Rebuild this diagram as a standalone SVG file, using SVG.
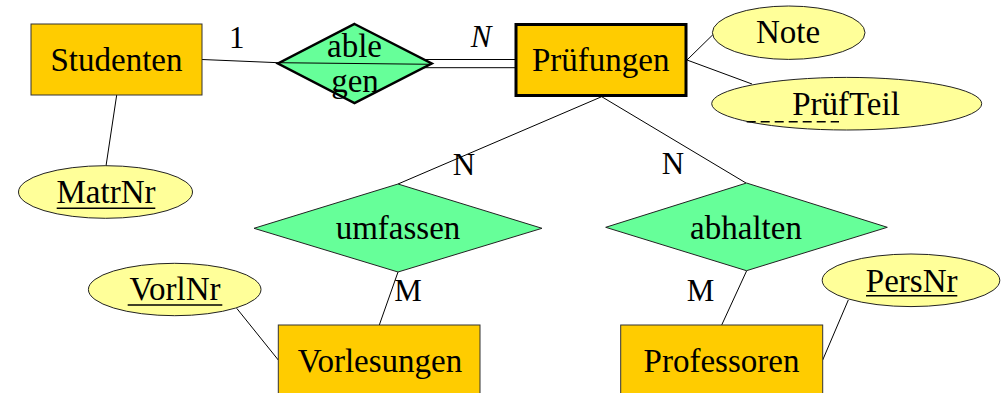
<svg xmlns="http://www.w3.org/2000/svg" width="1008" height="393" viewBox="0 0 1008 393">
<style>
text{font-family:"Liberation Serif","Times New Roman",serif;fill:#000}
.t{font-size:33px;text-anchor:middle}
.l{font-size:31px;text-anchor:middle}
.ent{fill:#FFCC00;stroke:#333;stroke-width:1}
.weak{fill:#FFCC00;stroke:#000;stroke-width:3}
.rel{fill:#66FF99;stroke:#222;stroke-width:1}
.relb{fill:#66FF99;stroke:#000;stroke-width:2.5}
.att{fill:#FFFF99;stroke:#222;stroke-width:1}
.c{stroke:#000;stroke-width:1;fill:none}
.u{stroke:#000;stroke-width:1.5}
</style>
<rect width="1008" height="393" fill="#fff"/>
<g id="connectors">
<line class="c" x1="202" y1="59.5" x2="278" y2="62.7"/>
<line class="c" x1="423" y1="59.5" x2="516" y2="59.5"/>
<line class="c" x1="424" y1="67.7" x2="516" y2="67.7"/>
<line class="c" x1="116.7" y1="95" x2="106" y2="166"/>
<line class="c" x1="687" y1="60" x2="734" y2="14"/>
<line class="c" x1="687" y1="60" x2="752" y2="84"/>
<line class="c" x1="601.7" y1="96.7" x2="398" y2="184"/>
<line class="c" x1="601.7" y1="96.7" x2="746" y2="183"/>
<line class="c" x1="398" y1="272" x2="379.3" y2="325"/>
<line class="c" x1="236.7" y1="308.3" x2="278.3" y2="360"/>
<line class="c" x1="746.7" y1="270.7" x2="721.7" y2="325"/>
<line class="c" x1="848.3" y1="300" x2="822.7" y2="360"/>
</g>
<g id="labels">
<text class="l" x="236.7" y="48.3">1</text>
<text class="l" x="481" y="46.7" font-style="italic">N</text>
<text class="l" x="464" y="175">N</text>
<text class="l" x="673" y="174">N</text>
<text class="l" x="408" y="300.7">M</text>
<text class="l" x="700.5" y="300.7">M</text>
</g>
<g id="Studenten">
<rect class="ent" x="31" y="24" width="171" height="71"/>
<text class="t" x="116.5" y="71">Studenten</text>
</g>
<g id="ablegen">
<polygon class="relb" points="354.5,24 431.7,63.5 354.5,103 278,63.5"/>
<line class="c" x1="278" y1="62.7" x2="431.7" y2="64.3"/>
<text class="t" x="354.5" y="57">able</text>
<text class="t" x="355" y="92">gen</text>
</g>
<g id="Pruefungen">
<rect class="weak" x="516" y="24.5" width="170" height="71"/>
<text class="t" x="600.7" y="70.7">Prüfungen</text>
</g>
<g id="Note">
<ellipse class="att" cx="788.7" cy="32.7" rx="76.3" ry="26.7"/>
<text class="t" x="788" y="43.3">Note</text>
</g>
<g id="PruefTeil">
<ellipse class="att" cx="846.7" cy="103.7" rx="135" ry="26.3"/>
<text class="t" x="846" y="115">PrüfTeil</text>
<line class="u" x1="746.7" y1="121.7" x2="839" y2="121.7" stroke-dasharray="9,5"/>
</g>
<g id="MatrNr">
<ellipse class="att" cx="105.5" cy="192" rx="87" ry="26.3"/>
<text class="t" x="106" y="203.3">MatrNr</text>
<line class="u" x1="56.7" y1="208.3" x2="155.3" y2="208.3"/>
</g>
<g id="umfassen">
<polygon class="rel" points="398,184 542,228.3 398,272 254,228.3"/>
<text class="t" x="398" y="239.3">umfassen</text>
</g>
<g id="abhalten">
<polygon class="rel" points="746.5,183 887.3,227.3 746.5,270.7 605.7,227.3"/>
<text class="t" x="746" y="239">abhalten</text>
</g>
<g id="VorlNr">
<ellipse class="att" cx="174.7" cy="289.5" rx="86.3" ry="26.2"/>
<text class="t" x="175" y="300">VorlNr</text>
<line class="u" x1="127.7" y1="305" x2="222.3" y2="305"/>
</g>
<g id="Vorlesungen">
<rect class="ent" x="278.3" y="325" width="201.7" height="80"/>
<text class="t" x="380" y="371.7">Vorlesungen</text>
</g>
<g id="Professoren">
<rect class="ent" x="620.7" y="325" width="202" height="80"/>
<text class="t" x="721.5" y="371.7">Professoren</text>
</g>
<g id="PersNr">
<ellipse class="att" cx="911" cy="280.3" rx="88.8" ry="26.3"/>
<text class="t" x="911.7" y="291.7">PersNr</text>
<line class="u" x1="866" y1="295.7" x2="957.3" y2="295.7"/>
</g>
</svg>
